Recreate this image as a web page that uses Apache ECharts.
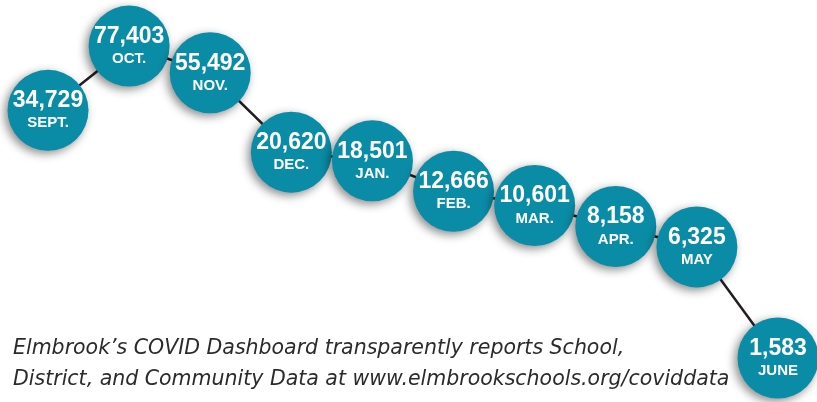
<!DOCTYPE html>
<html>
<head>
<meta charset="utf-8">
<script src="https://cdn.jsdelivr.net/npm/echarts@6/dist/echarts.min.js"></script>
<style>
	html, body { margin: 0; padding: 0; background: #fff; }
	#chart { width: 817px; height: 402px; }
</style>
</head>
<body>
<div id="chart"></div>
<script>
var months = ['SEPT.', 'OCT.', 'NOV.', 'DEC.', 'JAN.', 'FEB.', 'MAR.', 'APR.', 'MAY', 'JUNE'];
var cases = [34729, 77403, 55492, 20620, 18501, 12666, 10601, 8158, 6325, 1583];
var captionLines = [
	'Elmbrook\u2019s COVID Dashboard transparently reports School,',
	'District, and Community Data at www.elmbrookschools.org/coviddata'
];

var myChart = echarts.init(document.getElementById('chart'));

var option = {
	backgroundColor: '#ffffff',
	animation: false,
	title: {
		text: captionLines.join('\n'),
		left: 8,
		top: 328,
		textStyle: {
			fontFamily: 'DejaVu Sans',
			fontStyle: 'italic',
			fontWeight: 'normal',
			fontSize: 20.5,
			lineHeight: 31,
			color: '#2b2b2b'
		}
	},
	grid: {
		left: 48,
		right: 39,
		top: 0,
		bottom: 0
	},
	xAxis: {
		type: 'category',
		data: months,
		boundaryGap: false,
		show: false
	},
	yAxis: {
		type: 'log',
		logBase: 10,
		min: 915,
		max: 137450,
		show: false
	},
	series: [
		{
			type: 'line',
			data: cases,
			clip: false,
			symbol: 'circle',
			symbolSize: 81,
			lineStyle: {
				color: '#231f20',
				width: 2.5
			},
			itemStyle: {
				color: '#0b8ca6',
				shadowBlur: 10,
				shadowColor: 'rgba(0,0,0,0.45)',
				shadowOffsetX: -3,
				shadowOffsetY: 3
			},
			label: {
				show: true,
				position: 'inside',
				formatter: function (p) {
					return '{v|' + p.value.toLocaleString('en-US') + '}\n{m|' + months[p.dataIndex] + '}';
				},
				rich: {
					v: {
						fontFamily: 'Liberation Sans',
						fontSize: 23,
						fontWeight: 'bold',
						color: '#ffffff',
						lineHeight: 26
					},
					m: {
						fontFamily: 'Liberation Sans',
						fontSize: 15,
						fontWeight: 'bold',
						color: '#ffffff',
						lineHeight: 19
					}
				}
			}
		}
	]
};

myChart.setOption(option);
</script>
</body>
</html>
